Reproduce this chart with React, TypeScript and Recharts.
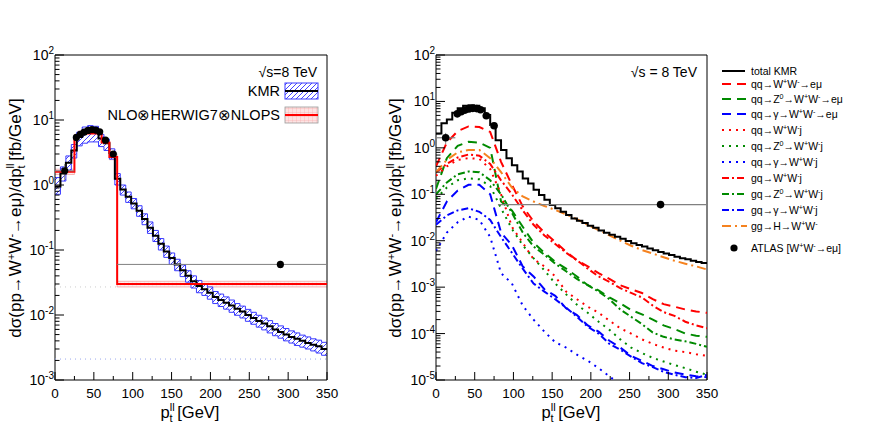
import React from 'react';
import {
  ComposedChart,
  Line,
  Area,
  Scatter,
  XAxis,
  YAxis,
  ErrorBar,
  ReferenceArea,
} from 'recharts';

const FONT = 'Liberation Sans, Arial, Helvetica, sans-serif';

// KMR histogram, 7 GeV bins from 0 to 350 GeV (left panel)
const kmrBinWidth = 7;
const kmrLeft = [
  0.95, 1.5, 2.2, 3.4, 5.5, 6.6, 7.0, 6.9, 5.2, 4.4, 3.1, 1.25, 0.85, 0.66, 0.52, 0.4, 0.3,
  0.22, 0.165, 0.125, 0.095, 0.075, 0.06, 0.049, 0.04, 0.033, 0.028, 0.025, 0.022, 0.019,
  0.017, 0.0155, 0.014, 0.0125, 0.0113, 0.01, 0.009, 0.0081, 0.0074, 0.0067, 0.006, 0.0055,
  0.005, 0.0046, 0.0043, 0.004, 0.0037, 0.0035, 0.0033, 0.003,
];
const kmrLeftLo = [
  0.72, 1.15, 1.7, 2.6, 4.0, 4.4, 4.6, 4.6, 3.9, 3.4, 2.5, 1.0, 0.7, 0.54, 0.43, 0.33, 0.245,
  0.18, 0.135, 0.1, 0.077, 0.06, 0.048, 0.039, 0.032, 0.026, 0.022, 0.02, 0.0175, 0.015,
  0.0135, 0.0123, 0.011, 0.0099, 0.009, 0.008, 0.0072, 0.0065, 0.0059, 0.0053, 0.0048, 0.0044,
  0.004, 0.0037, 0.0034, 0.0032, 0.003, 0.0028, 0.0026, 0.0024,
];
const kmrLeftHi = [
  1.3, 1.9, 2.8, 4.2, 6.5, 7.8, 8.2, 8.0, 6.0, 5.1, 3.6, 1.5, 1.0, 0.78, 0.62, 0.48, 0.36,
  0.27, 0.2, 0.15, 0.115, 0.09, 0.072, 0.059, 0.048, 0.04, 0.034, 0.03, 0.027, 0.023, 0.021,
  0.019, 0.017, 0.015, 0.0137, 0.0122, 0.011, 0.0099, 0.009, 0.0082, 0.0074, 0.0068, 0.0062,
  0.0057, 0.0053, 0.0049, 0.0046, 0.0043, 0.0041, 0.0038,
];

// NLO⊗HERWIG7⊗NLOPS, variable bins
const nloEdges = [0, 25, 30, 60, 70, 80, 350];
const nloValues = [1.6, 5.5, 6.2, 4.5, 2.7, 0.03];
const nloLo = [1.45, 5.0, 5.6, 4.1, 2.45, 0.027];
const nloHi = [1.75, 6.0, 6.8, 4.9, 2.95, 0.033];

// stray dotted lines of the left pad
const leftBlueDotted = 0.0021;
const leftGreyDotted = 0.027;
const leftGreyDottedEnd = 80;

// ATLAS W+W- -> e mu
const atlasX = [12.5, 27.5, 32.5, 37.5, 42.5, 47.5, 52.5, 57.5, 65, 75, 290];
const atlasY = [1.65, 5.4, 6.0, 6.5, 6.9, 7.1, 7.0, 6.6, 4.9, 3.0, 0.06];
const atlasYErr = [0.45, 0.4, 0.4, 0.4, 0.4, 0.4, 0.4, 0.4, 0.4, 0.3, 0.008];
const atlasXErr = [12.5, 2.5, 2.5, 2.5, 2.5, 2.5, 2.5, 2.5, 5, 5, 210];

// total KMR, right panel, 7 GeV bins
const kmrRight = [
  2.05, 3.4, 4.1, 5.7, 7.1, 8.1, 8.3, 8.1, 7.1, 5.1, 3.1, 1.45, 0.9, 0.6, 0.42, 0.31, 0.22,
  0.17, 0.125, 0.097, 0.076, 0.059, 0.05, 0.042, 0.036, 0.03, 0.027, 0.024, 0.021, 0.019,
  0.0165, 0.0148, 0.0135, 0.0122, 0.011, 0.0099, 0.0088, 0.0081, 0.0075, 0.0068, 0.0062,
  0.0057, 0.0053, 0.0049, 0.0045, 0.0042, 0.004, 0.0037, 0.0035, 0.0033,
];

// subprocesses, read every 14 GeV from 0 to 350
const procStep = 14;
const qqWW = [
  0.4, 1.3, 2.3, 2.9, 2.8, 2.2, 0.5, 0.16, 0.055, 0.026, 0.015, 0.0095, 0.0058, 0.0038, 0.0028,
  0.002, 0.0015, 0.0011, 9e-4, 7.5e-4, 5.5e-4, 4.3e-4, 3.8e-4, 3.3e-4, 3.0e-4, 2.8e-4,
];
const qqZWW = [
  0.13, 0.6, 1.1, 1.35, 1.3, 1.0, 0.07, 0.045, 0.02, 0.009, 0.0055, 0.0035, 0.0025, 0.0017,
  0.0011, 8.5e-4, 6e-4, 4.5e-4, 3.2e-4, 2.6e-4, 2e-4, 1.5e-4, 1.25e-4, 1e-4, 9e-5, 8.5e-5,
];
const qqGWW = [
  0.025, 0.07, 0.12, 0.16, 0.16, 0.1, 0.015, 0.008, 0.0028, 0.0017, 9e-4, 6.5e-4, 3.5e-4,
  2.5e-4, 1.5e-4, 1.1e-4, 7e-5, 5e-5, 3.3e-5, 2.6e-5, 2e-5, 1.7e-5, 1.45e-5, 1.3e-5, 1.2e-5,
  1.15e-5,
];
const qqWWj = [
  0.25, 0.4, 0.55, 0.6, 0.58, 0.35, 0.1, 0.02, 0.009, 0.004, 0.0028, 0.0017, 8e-4, 5.5e-4,
  3.8e-4, 2.8e-4, 1.9e-4, 1.3e-4, 1.0e-4, 7.5e-5, 6e-5, 5e-5, 4.3e-5, 4e-5, 3.6e-5, 3.3e-5,
];
const qqZWWj = [
  0.08, 0.14, 0.2, 0.22, 0.21, 0.15, 0.05, 0.018, 0.008, 0.0042, 0.0023, 0.0012, 7e-4, 4.2e-4,
  2.8e-4, 1.8e-4, 1.2e-4, 7.5e-5, 5e-5, 3.8e-5, 3e-5, 2.5e-5, 2.1e-5, 1.8e-5, 1.5e-5, 1.3e-5,
];
const qqGWWj = [
  0.006, 0.015, 0.025, 0.033, 0.028, 0.012, 0.002, 0.0012, 4e-4, 2e-4, 1.1e-4, 6.5e-5, 5e-5,
  3.5e-5, 2.6e-5, 1.8e-5, 1.2e-5, 8e-6,
];
const gqWWj = [
  0.3, 0.45, 0.62, 0.72, 0.68, 0.45, 0.2, 0.1, 0.045, 0.022, 0.013, 0.0085, 0.0055, 0.0038,
  0.0025, 0.0017, 0.0013, 9.5e-4, 7.5e-4, 6e-4, 4e-4, 2.9e-4, 2.4e-4, 1.8e-4, 1.5e-4, 1.3e-4,
];
const gqZWWj = [
  0.1, 0.18, 0.27, 0.31, 0.3, 0.2, 0.1, 0.04, 0.015, 0.0075, 0.005, 0.0032, 0.0022, 0.0015,
  0.0011, 8e-4, 5.5e-4, 3.3e-4, 2.3e-4, 1.6e-4, 1.05e-4, 8.5e-5, 7.5e-5, 6.8e-5, 6e-5, 5.2e-5,
];
const gqGWWj = [
  0.022, 0.035, 0.045, 0.05, 0.042, 0.028, 0.012, 0.0055, 0.0025, 0.0012, 8e-4, 5.5e-4, 3.6e-4,
  2.3e-4, 1.4e-4, 1e-4, 6e-5, 4.5e-5, 3.2e-5, 2.3e-5, 1.9e-5, 1.5e-5, 1.3e-5, 1.15e-5, 1.1e-5,
  1.3e-5,
];
const ggHWW = [
  0.3, 0.55, 0.8, 0.9, 0.9, 0.6, 0.3, 0.14, 0.09, 0.07, 0.056, 0.046, 0.037, 0.029, 0.022,
  0.017, 0.013, 0.01, 0.0078, 0.0063, 0.0053, 0.0044, 0.0037, 0.0032, 0.0028, 0.0024,
];

// axes
const xTicks = [0, 25, 50, 75, 100, 125, 150, 175, 200, 225, 250, 275, 300, 325, 350];
const leftDecades = [1e-3, 1e-2, 1e-1, 1, 10, 100];
const rightDecades = [1e-5, 1e-4, 1e-3, 1e-2, 1e-1, 1, 10, 100];

const RED = '#ff0000';
const GREEN = '#008a00';
const BLUE = '#0000ff';
const ORANGE = '#f5821f';
const DASHED = '9 6';
const DOTTED = '2 5';
const DASHDOT = '7 3 2 3';
const ORANGE_DASH = '9 4 2 4';

const rightSeries = [
  { label: 'qq→W^+W^-→eμ', color: RED, dash: DASHED, vals: qqWW },
  { label: 'qq→Z^0→W^+W^-→eμ', color: GREEN, dash: DASHED, vals: qqZWW },
  { label: 'qq→γ→W^+W^-→eμ', color: BLUE, dash: DASHED, vals: qqGWW },
  { label: 'qq→W^+W^-j', color: RED, dash: DOTTED, vals: qqWWj },
  { label: 'qq→Z^0→W^+W^-j', color: GREEN, dash: DOTTED, vals: qqZWWj },
  { label: 'qq→γ→W^+W^-j', color: BLUE, dash: DOTTED, vals: qqGWWj },
  { label: 'gq→W^+W^-j', color: RED, dash: DASHDOT, vals: gqWWj },
  { label: 'gq→Z^0→W^+W^-j', color: GREEN, dash: DASHDOT, vals: gqZWWj },
  { label: 'gq→γ→W^+W^-j', color: BLUE, dash: DASHDOT, vals: gqGWWj },
  { label: 'gg→H→W^+W^-', color: ORANGE, dash: ORANGE_DASH, vals: ggHWW },
];

const stepRows = (vals: number[]) =>
  [...vals, vals[vals.length - 1]].map((v, i) => ({ x: i * kmrBinWidth, y: v }));

const kmrLeftRows = kmrLeft.concat([kmrLeft[kmrLeft.length - 1]]).map((v, i) => {
  const j = Math.min(i, kmrLeft.length - 1);
  return { x: i * kmrBinWidth, y: v, band: [kmrLeftLo[j], kmrLeftHi[j]] };
});
const nloRows = nloEdges.map((x, i) => {
  const j = Math.min(i, nloValues.length - 1);
  return { x, y: nloValues[j], band: [nloLo[j], nloHi[j]] };
});
const atlasRows = atlasX.map((x, i) => ({ x, y: atlasY[i], ey: atlasYErr[i] }));
// horizontal (bin width) error bars of the ATLAS points
const atlasXBars = atlasX.map((x, i) => [
  { x: x - atlasXErr[i], y: atlasY[i] },
  { x: x + atlasXErr[i], y: atlasY[i] },
]);
const kmrRightRows = stepRows(kmrRight);

const minorTicks = (decades: number[]) => {
  const out: number[] = [];
  decades.slice(0, -1).forEach((d) => {
    for (let m = 2; m <= 9; m++) out.push(m * d);
  });
  return decades.concat(out).sort((a, b) => a - b);
};
const leftYTicks = minorTicks(leftDecades);
const rightYTicks = minorTicks(rightDecades);

function Rich({ s, size }: { s: string; size: number }) {
  const parts: React.ReactNode[] = [];
  let buf = '';
  let up = false;
  let k = 0;
  const flush = () => {
    if (!buf) return;
    parts.push(
      <tspan key={k++} dy={up ? size * 0.4 : 0}>
        {buf}
      </tspan>
    );
    up = false;
    buf = '';
  };
  for (let i = 0; i < s.length; i++) {
    if (s[i] === '^') {
      flush();
      parts.push(
        <tspan key={k++} dy={-size * 0.4} fontSize={size * 0.68}>
          {s[i + 1]}
        </tspan>
      );
      up = true;
      i++;
    } else buf += s[i];
  }
  flush();
  return <>{parts}</>;
}

function XTick(props: any) {
  const { x, y, payload } = props;
  const v = payload.value;
  const major = v % 50 === 0;
  return (
    <g>
      <line x1={x} x2={x} y1={y} y2={y - (major ? 8 : 4)} stroke="#000" strokeWidth={1} />
      {major && (
        <text x={x} y={y + 18} textAnchor="middle" fontSize={13.5} fontFamily={FONT} fill="#000">
          {v}
        </text>
      )}
    </g>
  );
}

function YTick(props: any) {
  const { x, y, payload } = props;
  const v = payload.value;
  const e = Math.round(Math.log10(v));
  const major = Math.abs(Math.log10(v) - e) < 1e-6;
  return (
    <g>
      <line x1={x} x2={x + (major ? 9 : 4.5)} y1={y} y2={y} stroke="#000" strokeWidth={1} />
      {major && (
        <text x={x - 1} y={y + 5} textAnchor="end" fontSize={14} fontFamily={FONT} fill="#000">
          10
          <tspan dy={-6} fontSize={10}>
            {String(e)}
          </tspan>
        </text>
      )}
    </g>
  );
}

const xAxisProps = {
  type: 'number' as const,
  dataKey: 'x',
  domain: [0, 350],
  ticks: xTicks,
  interval: 0,
  tick: <XTick />,
  tickSize: 0,
  tickMargin: 0,
  tickLine: false,
  axisLine: false,
  height: 1,
  allowDataOverflow: true,
};

function AtlasMarks() {
  return null;
}

function LeftPanel() {
  return (
    <ComposedChart width={340} height={437} margin={{ top: 55, right: 13, bottom: 56, left: 54 }}>
      <XAxis {...xAxisProps} />
      <YAxis
        type="number"
        scale="log"
        domain={[1e-3, 100]}
        ticks={leftYTicks}
        interval={0}
        tick={<YTick />}
        tickSize={0}
        tickMargin={0}
        tickLine={false}
        axisLine={false}
        width={1}
        allowDataOverflow
      />
      <Line
        data={[{ x: 0, y: leftBlueDotted }, { x: 350, y: leftBlueDotted }]}
        dataKey="y"
        stroke="#9aa6ee"
        strokeWidth={1}
        strokeDasharray="1 4"
        dot={false}
        isAnimationActive={false}
      />
      <Line
        data={[{ x: 0, y: leftGreyDotted }, { x: leftGreyDottedEnd, y: leftGreyDotted }]}
        dataKey="y"
        stroke="#cccccc"
        strokeWidth={1}
        strokeDasharray="1 4"
        dot={false}
        isAnimationActive={false}
      />
      <Area
        data={nloRows}
        dataKey="band"
        type="stepAfter"
        fill="url(#redGrid)"
        stroke="#f3a6a6"
        strokeWidth={0.8}
        isAnimationActive={false}
      />
      <Area
        data={kmrLeftRows}
        dataKey="band"
        type="stepAfter"
        fill="url(#blueHatch)"
        fillOpacity={1}
        stroke="#3a3aff"
        strokeWidth={1}
        isAnimationActive={false}
      />
      <Line
        data={kmrLeftRows}
        dataKey="y"
        type="stepAfter"
        stroke="#000"
        strokeWidth={2}
        dot={false}
        isAnimationActive={false}
      />
      <Line
        data={nloRows}
        dataKey="y"
        type="stepAfter"
        stroke={RED}
        strokeWidth={2}
        dot={false}
        isAnimationActive={false}
      />
      {atlasXBars.map((bar, i) => (
        <Line
          key={'xb' + i}
          data={bar}
          dataKey="y"
          stroke="#808080"
          strokeWidth={1}
          dot={false}
          isAnimationActive={false}
        />
      ))}
      <Scatter
        data={atlasRows}
        dataKey="y"
        fill="#000"
        isAnimationActive={false}
        shape={(p: any) => <circle cx={p.cx} cy={p.cy} r={3.6} fill="#000" />}
      >
        <ErrorBar dataKey="ey" direction="y" width={0} stroke="#808080" strokeWidth={1} />
      </Scatter>
      <ReferenceArea
        x1={0}
        x2={350}
        y1={1e-3}
        y2={100}
        fill="none"
        stroke="#000"
        strokeWidth={1}
        ifOverflow="visible"
      />
    </ComposedChart>
  );
}

function RightPanel() {
  return (
    <ComposedChart width={340} height={437} margin={{ top: 55, right: 13, bottom: 56, left: 55 }}>
      <XAxis {...xAxisProps} />
      <YAxis
        type="number"
        scale="log"
        domain={[1e-5, 100]}
        ticks={rightYTicks}
        interval={0}
        tick={<YTick />}
        tickSize={0}
        tickMargin={0}
        tickLine={false}
        axisLine={false}
        width={1}
        allowDataOverflow
      />
      {rightSeries.map((s) => (
        <Line
          key={s.label}
          data={s.vals.map((v, i) => ({ x: i * procStep, y: v }))}
          dataKey="y"
          type="linear"
          stroke={s.color}
          strokeWidth={2}
          strokeDasharray={s.dash}
          dot={false}
          isAnimationActive={false}
        />
      ))}
      <Line
        data={kmrRightRows}
        dataKey="y"
        type="stepAfter"
        stroke="#000"
        strokeWidth={2}
        dot={false}
        isAnimationActive={false}
      />
      {atlasXBars.map((bar, i) => (
        <Line
          key={'xb' + i}
          data={bar}
          dataKey="y"
          stroke="#808080"
          strokeWidth={1.2}
          dot={false}
          isAnimationActive={false}
        />
      ))}
      <Scatter
        data={atlasRows}
        dataKey="y"
        fill="#000"
        isAnimationActive={false}
        shape={(p: any) => <circle cx={p.cx} cy={p.cy} r={3.8} fill="#000" />}
      >
        <ErrorBar dataKey="ey" direction="y" width={0} stroke="#808080" strokeWidth={1} />
      </Scatter>
      <ReferenceArea
        x1={0}
        x2={350}
        y1={1e-5}
        y2={100}
        fill="none"
        stroke="#000"
        strokeWidth={1}
        ifOverflow="visible"
      />
    </ComposedChart>
  );
}

function YTitle({ x }: { x: number }) {
  return (
    <text
      transform={`translate(${x},218) rotate(-90)`}
      textAnchor="middle"
      fontSize={17}
      fontFamily={FONT}
      fill="#000"
    >
      dσ(pp→W
      <tspan dy={-6} fontSize={11}>
        +
      </tspan>
      <tspan dy={6}>W</tspan>
      <tspan dy={-6} fontSize={11}>
        -
      </tspan>
      <tspan dy={6}>→eμ)/dp</tspan>
      <tspan dy={-7} fontSize={11}>
        ll
      </tspan>
      <tspan dx={-5} dy={11} fontSize={11}>
        t
      </tspan>
      <tspan dy={-4}> [fb/GeV]</tspan>
    </text>
  );
}

function XTitle({ x }: { x: number }) {
  return (
    <text x={x} y={418} textAnchor="middle" fontSize={16.5} fontFamily={FONT} fill="#000">
      p
      <tspan dy={-7} fontSize={11}>
        ll
      </tspan>
      <tspan dx={-5} dy={11} fontSize={11}>
        t
      </tspan>
      <tspan dy={-4}> [GeV]</tspan>
    </text>
  );
}

const legendRows = [71, 84, 99, 114, 130, 146, 162, 178, 194, 210, 226];

function Overlay() {
  return (
    <svg width={872} height={437} style={{ position: 'absolute', left: 0, top: 0, pointerEvents: 'none' }}>
      <YTitle x={21} />
      <YTitle x={401} />
      <XTitle x={190} />
      <XTitle x={571} />

      {/* left pad legend */}
      <text x={317} y={77} textAnchor="end" fontSize={14} fontFamily={FONT}>
        √s=8 TeV
      </text>
      <text x={280} y={96} textAnchor="end" fontSize={14.5} fontFamily={FONT}>
        KMR
      </text>
      <rect x={285} y={83} width={33} height={16} fill="url(#blueHatch)" stroke="#3a3aff" strokeWidth={1} />
      <line x1={285} x2={318} y1={91} y2={91} stroke="#000" strokeWidth={2} />
      <text x={280} y={120} textAnchor="end" fontSize={14.5} fontFamily={FONT}>
        NLO⊗HERWIG7⊗NLOPS
      </text>
      <rect x={285} y={107} width={33} height={16} fill="url(#redGrid)" stroke="#999" strokeWidth={0.8} />
      <line x1={285} x2={318} y1={115} y2={115} stroke={RED} strokeWidth={2} />

      {/* right pad */}
      <text x={697} y={77} textAnchor="end" fontSize={14} fontFamily={FONT}>
        √s = 8 TeV
      </text>
      <line x1={722} x2={745} y1={legendRows[0]} y2={legendRows[0]} stroke="#000" strokeWidth={2} />
      <text x={751} y={legendRows[0] + 4} fontSize={10.5} fontFamily={FONT}>
        total KMR
      </text>
      {rightSeries.map((s, i) => (
        <g key={s.label}>
          <line
            x1={722}
            x2={747}
            y1={legendRows[i + 1]}
            y2={legendRows[i + 1]}
            stroke={s.color}
            strokeWidth={2}
            strokeDasharray={s.dash}
          />
          <text x={751} y={legendRows[i + 1] + 4} fontSize={10.5} fontFamily={FONT}>
            <Rich s={s.label} size={10.5} />
          </text>
        </g>
      ))}
      <circle cx={734} cy={248} r={3.6} fill="#000" />
      <text x={751} y={252} fontSize={10.5} fontFamily={FONT}>
        <Rich s="ATLAS [W^+W^-→eμ]" size={10.5} />
      </text>
    </svg>
  );
}

export default function App() {
  return (
    <div style={{ position: 'absolute', left: 0, top: 0, width: 872, height: 437, background: '#fff', fontFamily: FONT }}>
      <svg width={0} height={0} style={{ position: 'absolute' }}>
        <defs>
          <pattern id="blueHatch" patternUnits="userSpaceOnUse" width={5} height={5}>
            <rect width={5} height={5} fill="#fff" />
            <path d="M0,5 L5,0 M-1,1 L1,-1 M4,6 L6,4" stroke="#2f2fff" strokeWidth={0.9} />
          </pattern>
          <pattern id="redGrid" patternUnits="userSpaceOnUse" width={4} height={4}>
            <rect width={4} height={4} fill="#fde3e3" />
            <path d="M0,0 L4,0 M0,0 L0,4" stroke="#f4a3a3" strokeWidth={0.6} />
          </pattern>
        </defs>
      </svg>
      <div style={{ position: 'absolute', left: 0, top: 0 }}>
        <LeftPanel />
      </div>
      <div style={{ position: 'absolute', left: 380, top: 0 }}>
        <RightPanel />
      </div>
      <Overlay />
    </div>
  );
}
